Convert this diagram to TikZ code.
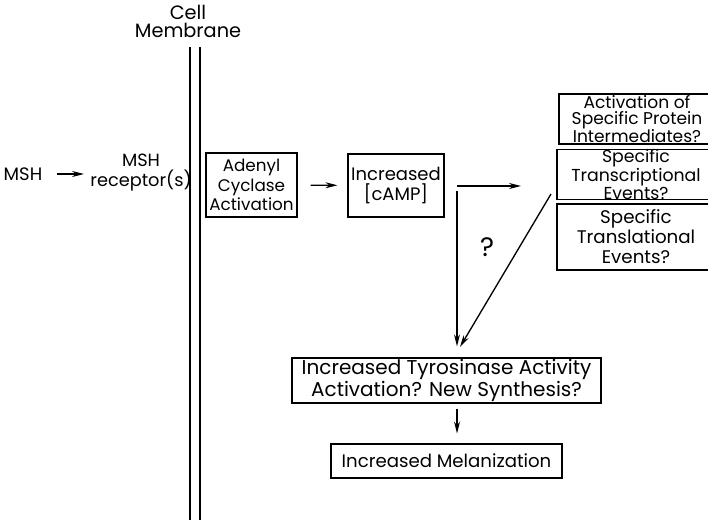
\documentclass[tikz,border=0pt]{standalone}
\usepackage{fontspec}
\setmainfont{Poppins}
\usetikzlibrary{arrows.meta}

\tikzset{
  fsz/.style 2 args={font=\fontsize{#1}{#2}\selectfont},
  box/.style={draw, line width=0.9pt, inner sep=0pt, align=center},
  lbl/.style={inner sep=0pt, align=center},
  arr/.style={line width=1pt, -{Stealth[length=9pt,width=4.5pt]}},
}

\begin{document}
\begin{tikzpicture}[x=0.75pt,y=-0.75pt]
	\useasboundingbox (0,0) rectangle (708,520);
	\clip (0,0) rectangle (708,520);
	% membrane
	\node[lbl, fsz={14.5}{13.5}] (cell) at (188,21) {Cell\\Membrane};
	\draw[line width=1pt] (190,47) -- (190,520);
	\draw[line width=1pt] (200,47) -- (200,520);
	% outside
	\node[lbl, fsz={13.5}{15}] (msh) at (23,174) {MSH};
	\node[lbl, fsz={13.3}{15}] (rec) at (141,173) {MSH\\receptor(s)};
	\coordinate (m1) at (57,174);
	\coordinate (m2) at (84,174);
	\draw[arr] (m1) -- (m2);
	% inside
	\node[box, fsz={12.6}{14.6}, minimum width=68.25pt, minimum height=48pt] (ad) at (251.5,185) {Adenyl\\Cyclase\\Activation};
	\node[box, fsz={13.5}{15.5}, minimum width=72pt, minimum height=47.25pt] (camp) at (396,185.5) {Increased\\{}[cAMP]};
	\draw[arr, shorten <=9.75pt, shorten >=7.5pt] (ad) -- (camp);
	% possible events
	\node[box, fsz={12.8}{12}, minimum width=117pt, minimum height=37.5pt] (prot) at (637,119) {Activation of\\Specific Protein\\Intermediates?};
	\node[box, fsz={13}{9.75}, minimum width=118.5pt, minimum height=30.75pt] (trc) at (636,174.5) {Specific\\Transcriptional\\Events?};
	\node[box, fsz={13.7}{15}, minimum width=118.5pt, minimum height=49.5pt] (trl) at (636,237) {Specific\\Translational\\Events?};
	\coordinate (split) at (457,186);
	\coordinate (out) at (521,186);
	\draw[arr] (split) -- (out);
	\node[inner sep=0pt, fsz={20}{20}] (q) at (487,247) {?};
	% tyrosinase
	\node[box, fsz={15}{16.5}, minimum width=231.75pt, minimum height=33.75pt] (tyr) at (446.5,380.5) {Increased Tyrosinase Activity\\Activation? New Synthesis?};
	\node[box, fsz={13.6}{16}, line width=2.2pt, minimum width=173.25pt, minimum height=25.5pt] (mel) at (446.5,461) {Increased Melanization};
	\coordinate (down) at (457,191);
	\coordinate (back) at (551,194);
	\coordinate (tip) at (460,347);
	\draw[arr, shorten >=8.25pt] (down) -- (down |- tyr.north);
	\draw[arr] (back) -- (tip);
	\draw[arr, shorten <=3.75pt, shorten >=6.75pt] ([xshift=7.9pt]tyr.south) -- ([xshift=7.9pt]mel.north);
\end{tikzpicture}
\end{document}
